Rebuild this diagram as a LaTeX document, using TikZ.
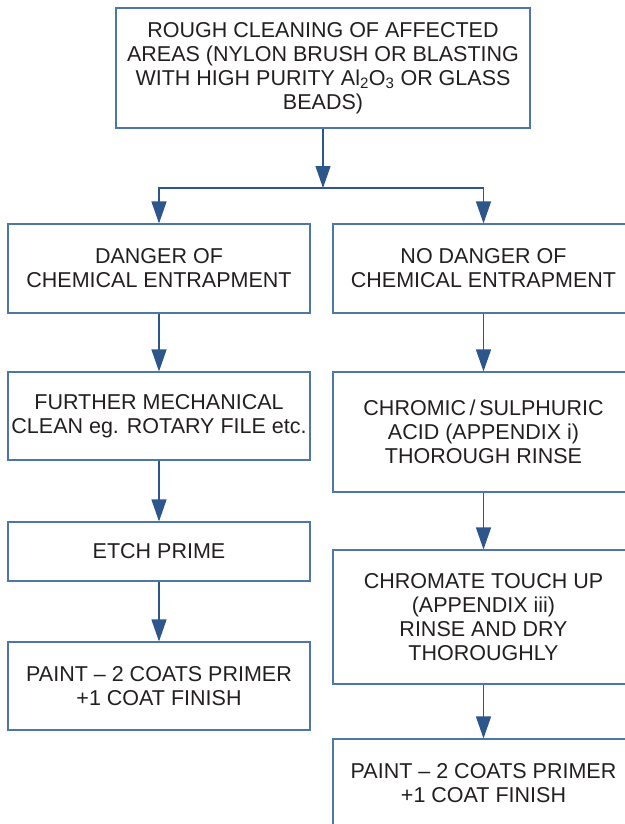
\documentclass[tikz,border=0pt]{standalone}
\usepackage{fontspec}
\setmainfont{Liberation Sans}
\usetikzlibrary{arrows.meta}
\definecolor{khung}{RGB}{78,118,168}
\definecolor{muiten}{RGB}{44,86,140}
\definecolor{chu}{RGB}{35,31,32}
\begin{document}
\begin{tikzpicture}[x=1pt,y=-1pt,
	hop/.style={draw=khung,line width=1.1pt,align=center,text=chu,
		font=\fontsize{21.5}{24}\selectfont,inner sep=0pt},
	mui/.style={draw=muiten,line width=1.3pt,-{Triangle[length=22pt,width=15pt]}}]
			\useasboundingbox (0,0) rectangle (624,824);
			\def\w{302pt} % cot trai
			\def\v{301pt} % cot phai
			\node[hop,minimum width=414pt,minimum height=120pt] (R) at (323,68)
			{ROUGH CLEANING OF AFFECTED\\AREAS (NYLON BRUSH OR BLASTING\\
			WITH HIGH PURITY Al\textsubscript{2}O\textsubscript{3} OR GLASS\\BEADS)};
			\path (323,188) coordinate (T);
			% cot trai
			\node[hop,minimum width=\w,minimum height=89pt] (D1) at (159,268.5)
			{DANGER OF\\CHEMICAL ENTRAPMENT};
			\node[hop,minimum width=\w,minimum height=88pt] (D2) at (159,416)
			{FURTHER MECHANICAL\\CLEAN eg. ROTARY FILE etc.};
			\node[hop,minimum width=\w,minimum height=59pt] (D3) at (159,551.5)
			{ETCH PRIME};
			\node[hop,minimum width=\w,minimum height=88pt] (D4) at (159,686)
			{PAINT -- 2 COATS PRIMER\\+1 COAT FINISH};
			% cot phai
			\node[hop,minimum width=\v,minimum height=89pt] (N1) at (483.5,268.5)
			{NO DANGER OF\\CHEMICAL ENTRAPMENT};
			\node[hop,minimum width=\v,minimum height=120pt] (N2) at (483.5,432)
			{CHROMIC\,/\,SULPHURIC\\ACID (APPENDIX i)\\THOROUGH RINSE};
			\node[hop,minimum width=\v,minimum height=134pt] (N3) at (483.5,617)
			{CHROMATE TOUCH UP\\(APPENDIX iii)\\RINSE AND DRY\\THOROUGHLY};
			\node[hop,minimum width=\v,minimum height=88pt] (N4) at (483.5,783)
			{PAINT -- 2 COATS PRIMER\\+1 COAT FINISH};
			\draw[mui] (R)--(T);
			\draw[mui] (T)-|(D1);
			\draw[mui] (T)-|(N1);
			\foreach \a/\b in {D1/D2,D2/D3,D3/D4,N1/N2,N2/N3,N3/N4}
			\draw[mui] (\a)--(\b);
	\end{tikzpicture}
\end{document}
